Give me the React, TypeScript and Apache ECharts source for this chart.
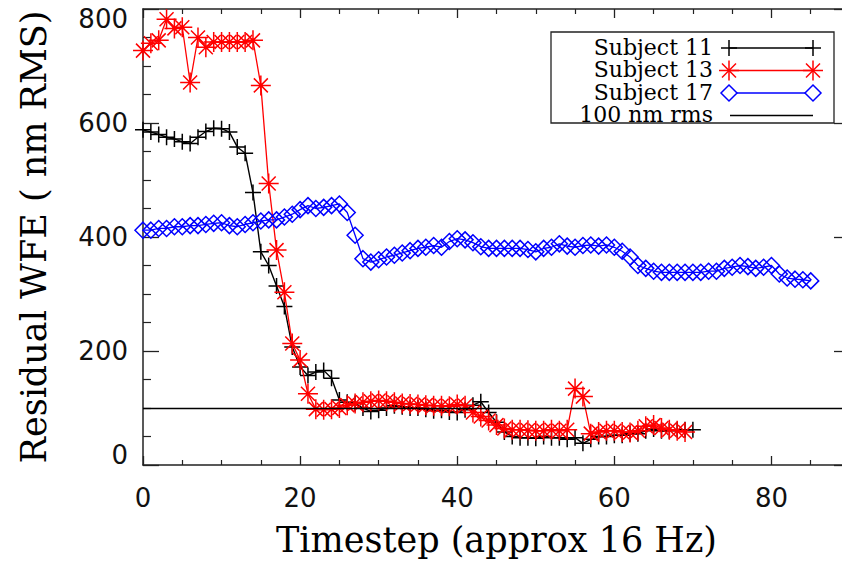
import React, { useEffect, useRef } from "react";
import * as echarts from "echarts";

// ---- data ----
const subject11: number[] = [
  588, 584, 580, 575, 572, 567, 564, 575, 585, 591, 590, 584, 558, 547, 478,
  374, 350, 314, 278, 207, 172, 157, 163, 166, 152, 114, 110, 108, 100, 94,
  96, 100, 104, 102, 100, 100, 98, 95, 96, 93, 92, 97, 105, 111, 92,
  75, 58, 50, 48, 48, 47, 50, 48, 48, 45, 48, 38, 45, 50, 50,
  52, 52, 55, 55, 60, 63, 60, 60, 62, 62, 62,
];
const subject13: number[] = [
  727, 740, 745, 782, 766, 768, 671, 750, 733, 742, 742, 742, 742, 742, 745,
  666, 494, 377, 303, 213, 184, 125, 98, 97, 98, 100, 105, 108, 110, 112,
  113, 112, 110, 108, 107, 106, 105, 104, 104, 103, 106, 104, 92, 85, 78,
  70, 64, 62, 62, 61, 60, 60, 62, 60, 62, 134, 120, 55, 58, 60,
  60, 58, 57, 60, 68, 70, 65, 62, 60, 58,
];
const subject17: number[] = [
  412, 412, 415, 415, 418, 418, 420, 420, 422, 424, 425, 420, 418, 422, 425,
  428, 430, 430, 435, 440, 448, 455, 450, 452, 455, 458, 443, 403, 362, 356,
  360, 365, 368, 372, 376, 380, 382, 385, 382, 392, 397, 395, 390, 383, 380,
  380, 380, 380, 380, 378, 374, 380, 382, 388, 384, 382, 385, 386, 384, 386,
  382, 375, 365, 350, 345, 340, 338, 338, 338, 338, 338, 338, 340, 340, 345,
  347, 350, 348, 345, 347, 350, 335, 328, 326, 325, 323,
];
const rmsLevel = 100;
const seriesNames = ["Subject 11", "Subject 13", "Subject 17", "100 nm rms"];
const xMin = 0;
const xMax = 90;
const xInterval = 20;
const yMin = 0;
const yMax = 800;
const yInterval = 200;

const PLUS = "path://M8,0 L8,16 M0,8 L16,8";
const STAR = "path://M10,0 L10,20 M0,10 L20,10 M3,3 L17,17 M17,3 L3,17";
const DIAMOND = "path://M8,0 L16,8 L8,16 L0,8 Z";

const TICK_FONT = "'DejaVu Sans', sans-serif";
const SERIF = "'DejaVu Serif', serif";

function plusMark(cx: number, cy: number, s: number, color: string) {
  return [
    { type: "line", shape: { x1: cx - s, y1: cy, x2: cx + s, y2: cy }, style: { stroke: color, lineWidth: 1.5 } },
    { type: "line", shape: { x1: cx, y1: cy - s, x2: cx, y2: cy + s }, style: { stroke: color, lineWidth: 1.5 } },
  ];
}
function starMark(cx: number, cy: number, s: number, color: string) {
  const d = s * 0.7;
  return [
    ...plusMark(cx, cy, s, color),
    { type: "line", shape: { x1: cx - d, y1: cy - d, x2: cx + d, y2: cy + d }, style: { stroke: color, lineWidth: 1.5 } },
    { type: "line", shape: { x1: cx - d, y1: cy + d, x2: cx + d, y2: cy - d }, style: { stroke: color, lineWidth: 1.5 } },
  ];
}
function diamondMark(cx: number, cy: number, s: number, color: string) {
  return [
    {
      type: "polygon",
      shape: { points: [[cx, cy - s], [cx + s, cy], [cx, cy + s], [cx - s, cy]] },
      style: { stroke: color, fill: "#fff", lineWidth: 1.5 },
    },
  ];
}

function buildLegend() {
  const x1 = 729;
  const x2 = 813;
  const tx = 713;
  const rows = [47, 69.5, 92, 114.5];
  const colors = ["#000", "#ff0000", "#0000ff", "#000"];
  const children: any[] = [
    { type: "rect", shape: { x: 551, y: 32, width: 283, height: 91 }, style: { fill: "#fff", stroke: "#222", lineWidth: 1.3 } },
  ];
  rows.forEach((y, i) => {
    children.push({
      type: "text",
      x: tx,
      y,
      style: { text: seriesNames[i], fill: "#000", font: `22px ${SERIF}`, align: "right", verticalAlign: "middle" },
    });
    children.push({
      type: "line",
      shape: { x1: i === 3 ? 730 : x1, y1: y + 1, x2: x2, y2: y + 1 },
      style: { stroke: colors[i], lineWidth: 1.4 },
    });
  });
  children.push(...plusMark(x1, rows[0] + 1, 8, colors[0]), ...plusMark(x2, rows[0] + 1, 8, colors[0]));
  children.push(...starMark(x1, rows[1] + 1, 10, colors[1]), ...starMark(x2, rows[1] + 1, 10, colors[1]));
  children.push(...diamondMark(x1, rows[2] + 1, 8, colors[2]), ...diamondMark(x2, rows[2] + 1, 8, colors[2]));
  return [{ type: "group", z: 100, children }];
}

export default function App() {
  const ref = useRef<HTMLDivElement>(null);
  useEffect(() => {
    if (!ref.current) return;
    const chart = echarts.init(ref.current, undefined, { renderer: "svg" });
    const axisLineStyle = { color: "#222", width: 1.5 };
    const option: any = {
      animation: false,
      backgroundColor: "#fff",
      grid: { left: 143, top: 9, width: 707, height: 456, containLabel: false, outerBoundsMode: "none" },
      xAxis: [
        {
          type: "value",
          min: xMin,
          max: xMax,
          interval: xInterval,
          name: "Timestep (approx 16 Hz)",
          nameLocation: "middle",
          nameGap: 57,
          nameTextStyle: { fontFamily: SERIF, fontSize: 35, color: "#000" },
          axisLine: { show: true, onZero: false, lineStyle: axisLineStyle },
          axisTick: { show: true, inside: true, length: 9, lineStyle: { color: "#222", width: 1.3 } },
          minorTick: { show: true, splitNumber: 4, length: 5, lineStyle: { color: "#222", width: 1.2 } },
          splitLine: { show: false },
          axisLabel: {
            margin: 20,
            fontFamily: TICK_FONT,
            fontSize: 26,
            color: "#111",
            formatter: (v: number) => (v % xInterval === 0 ? String(v) : ""),
          },
        },
        {
          type: "value",
          position: "top",
          min: xMin,
          max: xMax,
          interval: xInterval,
          axisLine: { show: true, onZero: false, lineStyle: axisLineStyle },
          axisTick: { show: true, inside: true, length: 9, lineStyle: { color: "#222", width: 1.3 } },
          minorTick: { show: true, splitNumber: 4, length: 5, lineStyle: { color: "#222", width: 1.2 } },
          splitLine: { show: false },
          axisLabel: { show: false },
        },
      ],
      yAxis: [
        {
          type: "value",
          min: yMin,
          max: yMax,
          interval: yInterval,
          name: "Residual WFE ( nm RMS)",
          nameLocation: "middle",
          nameGap: 92,
          nameTextStyle: { fontFamily: SERIF, fontSize: 35, color: "#000" },
          axisLine: { show: true, onZero: false, lineStyle: axisLineStyle },
          axisTick: { show: true, inside: true, length: 16, lineStyle: { color: "#222", width: 1.3 } },
          minorTick: { show: true, splitNumber: 4, length: 8, lineStyle: { color: "#222", width: 1.2 } },
          splitLine: { show: false },
          axisLabel: {
            margin: 15,
            fontFamily: TICK_FONT,
            fontSize: 26,
            color: "#111",
            formatter: (v: number) => (v === yMax ? `{top|${v}}` : v === yMin ? `{bot|${v}}` : String(v)),
            rich: {
              top: { fontFamily: TICK_FONT, fontSize: 26, color: "#111", padding: [20, 0, 0, 0] },
              bot: { fontFamily: TICK_FONT, fontSize: 26, color: "#111", padding: [0, 0, 20, 0] },
            },
          },
        },
        {
          type: "value",
          position: "right",
          min: yMin,
          max: yMax,
          interval: yInterval,
          axisLine: { show: true, onZero: false, lineStyle: axisLineStyle },
          axisTick: { show: true, inside: true, length: 16, lineStyle: { color: "#222", width: 1.3 } },
          minorTick: { show: true, splitNumber: 4, length: 8, lineStyle: { color: "#222", width: 1.2 } },
          splitLine: { show: false },
          axisLabel: { show: false },
        },
      ],
      series: [
        {
          name: seriesNames[0],
          type: "line",
          data: subject11.map((v, i) => [i, v]),
          symbol: PLUS,
          symbolSize: 16,
          showAllSymbol: true,
          lineStyle: { color: "#000", width: 1.4 },
          itemStyle: { color: "transparent", borderColor: "#000", borderWidth: 1.5 },
          markLine: {
            silent: true,
            symbol: ["none", "none"],
            label: { show: false },
            lineStyle: { color: "#000", width: 1.4, type: "solid" },
            data: [{ yAxis: rmsLevel }],
          },
          z: 2,
        },
        {
          name: seriesNames[1],
          type: "line",
          data: subject13.map((v, i) => [i, v]),
          symbol: STAR,
          symbolSize: 20,
          showAllSymbol: true,
          lineStyle: { color: "#ff0000", width: 1.3 },
          itemStyle: { color: "transparent", borderColor: "#ff0000", borderWidth: 1.5 },
          z: 3,
        },
        {
          name: seriesNames[2],
          type: "line",
          data: subject17.map((v, i) => [i, v]),
          symbol: DIAMOND,
          symbolSize: 16,
          showAllSymbol: true,
          lineStyle: { color: "#0000ff", width: 1.3 },
          itemStyle: { color: "transparent", borderColor: "#0000ff", borderWidth: 1.5 },
          z: 4,
        },
      ],
      graphic: buildLegend(),
    };
    chart.setOption(option);
    return () => chart.dispose();
  }, []);
  return (
    <div
      ref={ref}
      style={{ position: "fixed", left: 0, top: 0, width: 842, height: 566, background: "#fff" }}
    />
  );
}
